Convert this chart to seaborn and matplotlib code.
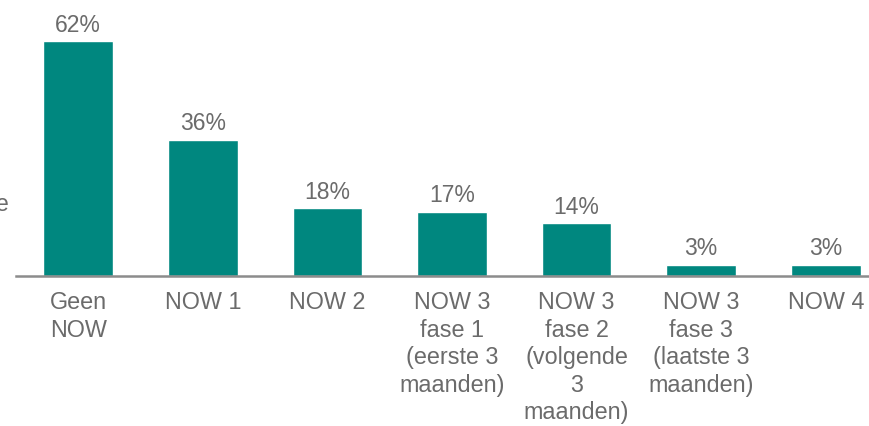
import numpy as np
import matplotlib
matplotlib.use("Agg")
import matplotlib.pyplot as plt
import pandas as pd
import seaborn as sns

categories = ["Geen\nNOW", "NOW 1", "NOW 2", "NOW 3\nfase 1\n(eerste 3\nmaanden)",
              "NOW 3\nfase 2\n(volgende\n3\nmaanden)", "NOW 3\nfase 3\n(laatste 3\nmaanden)", "NOW 4"]
values = [62, 36, 18, 17, 14, 3, 3]

teal = "#00877F"
grey = "#6b6b6b"

sns.set_style("white")
plt.rcParams['font.family'] = ['Liberation Sans', 'DejaVu Sans']

df = pd.DataFrame({"cat": categories, "val": values})

fig = plt.figure(figsize=(8.7, 4.26), dpi=100)
# axes spans past the right edge, the last category is cut in the original
ax = fig.add_axes([16 / 870, 150 / 426, 872 / 870, 235 / 426])
sns.barplot(data=df, x="cat", y="val", color=teal, width=0.56, saturation=1, ax=ax)

ax.set_ylim(0, 62)
ax.set_xlim(-0.5, 6.5)

for i, v in enumerate(values):
    ax.annotate(f"{v}%", (i, v), xytext=(0, 3), textcoords="offset points",
                ha="center", va="bottom", fontsize=16.5, color=grey, annotation_clip=False)

ax.set_xlabel("")
ax.set_ylabel("")
ax.set_yticks([])
ax.tick_params(axis="x", length=0, pad=11, labelsize=16.8, labelcolor=grey)
for lab in ax.get_xticklabels():
    lab.set_linespacing(1.25)
for s in ["top", "right", "left"]:
    ax.spines[s].set_visible(False)
ax.spines["bottom"].set_color("#8c8c8c")
ax.spines["bottom"].set_linewidth(1.8)

# cut-off text at the left edge of the original
fig.text(-0.005, 1 - 205 / 426, "e", fontsize=16.5, color=grey, ha="left", va="center")

fig.savefig("out.png", dpi=100)
